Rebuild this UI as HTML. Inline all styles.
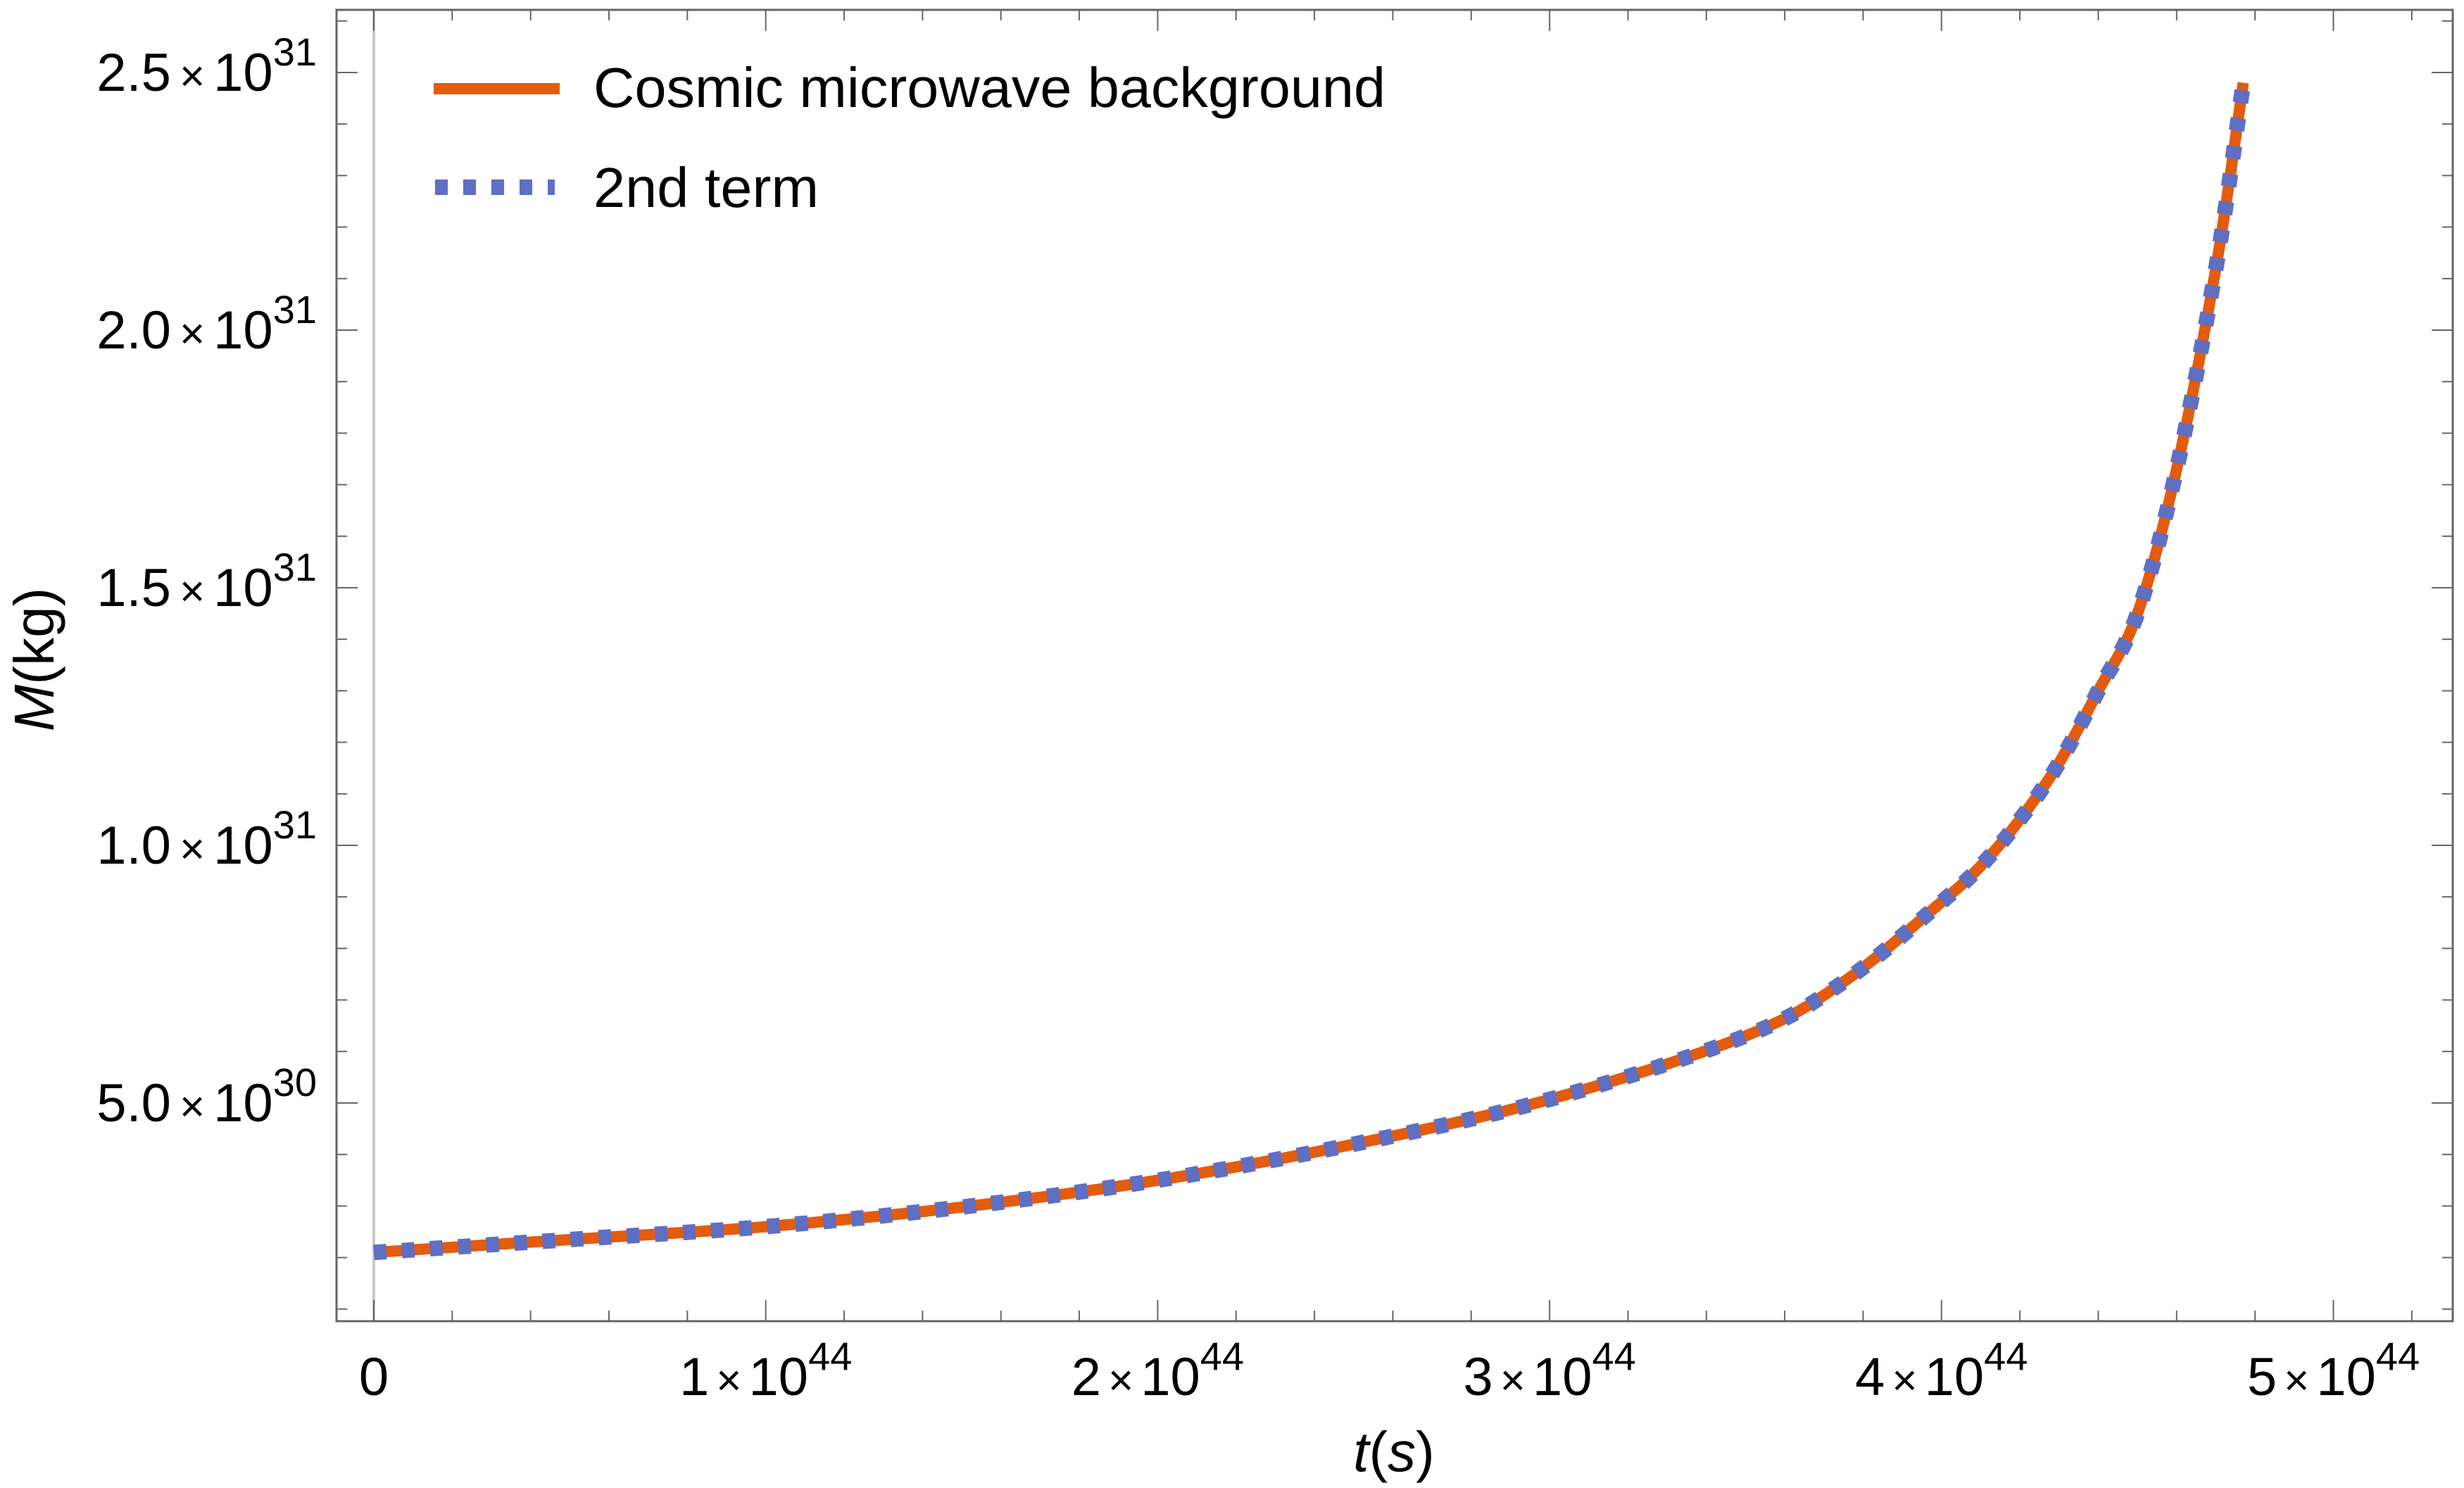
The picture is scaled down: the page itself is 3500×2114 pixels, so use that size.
<!DOCTYPE html>
<html><head><meta charset="utf-8"><style>
body{margin:0;background:#fff}
svg{display:block}
text{font-family:"Liberation Sans",sans-serif;fill:#000}
</style></head><body>
<svg id="chart" width="3500" height="2114" viewBox="0 0 3500 2114">
<rect x="0" y="0" width="3500" height="2114" fill="#fff"/>
<g id="grid"></g>
<g id="series"></g>
<g id="axes"></g>
<g id="legend">
  <line x1="616" y1="126" x2="795" y2="126" stroke="#e35c0e" stroke-width="16"/>
  <text x="843" y="152" font-size="80" textLength="1125" lengthAdjust="spacingAndGlyphs">Cosmic microwave background</text>
  <line x1="618" y1="266" x2="788" y2="266" stroke="#5e6fc4" stroke-width="22" stroke-dasharray="18 22"/>
  <text x="843" y="294" font-size="80" textLength="320" lengthAdjust="spacingAndGlyphs">2nd term</text>
</g>
<text x="1980" y="2090" font-size="80" text-anchor="middle"><tspan font-style="italic">t</tspan>(<tspan font-style="italic">s</tspan>)</text>
<text transform="translate(76,937) rotate(-90)" font-size="80" text-anchor="middle"><tspan font-style="italic">M</tspan>(kg)</text>
</svg>
<script>
const tValues=[0,0.5,1,1.5,2,2.5,3,3.5,3.75,4,4.1,4.2,4.3,4.4,4.5,4.6,4.7,4.77];
const massValues=[2.1,2.35,2.6,2.98,3.5,4.2,5.07,6.3,7.35,8.9,9.6,10.5,11.6,13.0,14.5,17.3,21.2,24.8];
const xTickValues=[0,1,2,3,4,5];
const xTickLabels=["0","1","2","3","4","5"];
const yTickValues=[5,10,15,20,25];
const yTickLabels=["5.0","1.0","1.5","2.0","2.5"];
const yTickExps=["30","31","31","31","31"];

const NS="http://www.w3.org/2000/svg";
const L=478,R=3484,T=14,B=1877;
function X(t){return 531+t*556.7;}
function Y(m){return 1933-m*73.2;}
function mk(tag,attrs,parent){const e=document.createElementNS(NS,tag);for(const k in attrs)e.setAttribute(k,attrs[k]);parent.appendChild(e);return e;}
const grid=document.getElementById('grid'),axes=document.getElementById('axes'),series=document.getElementById('series');

const zl=mk('line',{x1:X(0),x2:X(0),y1:T,y2:B,stroke:'#c8c8c8','stroke-width':4},grid);



const frame=mk('rect',{x:L,y:T,width:R-L,height:B-T,fill:'none',stroke:'#666','stroke-width':3},axes);



for(let v=0;v<=5.8;v+=0.2){const x=X(v);if(x>R)break;const major=Math.abs(v-Math.round(v))<1e-6;const len=major?30:15;
 mk('line',{x1:x,x2:x,y1:B,y2:B-len,stroke:'#666','stroke-width':2},axes);
 mk('line',{x1:x,x2:x,y1:T,y2:T+len,stroke:'#666','stroke-width':2},axes);}
for(let v=0;v<=26;v+=1){const y=Y(v);if(y>B||y<T)continue;const major=v%5===0;const len=major?30:15;
 mk('line',{x1:L,x2:L+len,y1:y,y2:y,stroke:'#666','stroke-width':2},axes);
 mk('line',{x1:R,x2:R-len,y1:y,y2:y,stroke:'#666','stroke-width':2},axes);}

xTickValues.forEach((v,i)=>{
 const t=mk('text',{x:X(v),y:1982,'font-size':76,'text-anchor':'middle'},axes);
 
 
 if(v===0){t.textContent='0';}
 else{t.innerHTML=xTickLabels[i]+'<tspan dx="10" font-size="62">×</tspan><tspan dx="10">10</tspan><tspan dy="-36" font-size="56">44</tspan>';}
});
yTickValues.forEach((v,i)=>{
 const t=mk('text',{x:450,y:Y(v)+26,'font-size':76,'text-anchor':'end'},axes);
 
 
 t.innerHTML=yTickLabels[i]+'<tspan dx="12" font-size="62">×</tspan><tspan dx="12">10</tspan><tspan dy="-36" font-size="56">'+yTickExps[i]+'</tspan>';
});

const pts=tValues.map((t,i)=>[X(t),Y(massValues[i])]);
let d='M'+pts[0][0].toFixed(1)+','+pts[0][1].toFixed(1);
for(let i=0;i<pts.length-1;i++){
 const p0=pts[Math.max(0,i-1)],p1=pts[i],p2=pts[i+1],p3=pts[Math.min(pts.length-1,i+2)];
 const c1=[p1[0]+(p2[0]-p0[0])/6,p1[1]+(p2[1]-p0[1])/6];
 const c2=[p2[0]-(p3[0]-p1[0])/6,p2[1]-(p3[1]-p1[1])/6];
 d+=' C'+c1[0].toFixed(1)+','+c1[1].toFixed(1)+' '+c2[0].toFixed(1)+','+c2[1].toFixed(1)+' '+p2[0].toFixed(1)+','+p2[1].toFixed(1);
}
const p1=mk('path',{d:d,fill:'none',stroke:'#e35c0e','stroke-width':16,'stroke-linejoin':'round'},series);


const p2=mk('path',{d:d,fill:'none',stroke:'#5e6fc4','stroke-width':22,'stroke-dasharray':'18 22'},series);


</script>
</body></html>
